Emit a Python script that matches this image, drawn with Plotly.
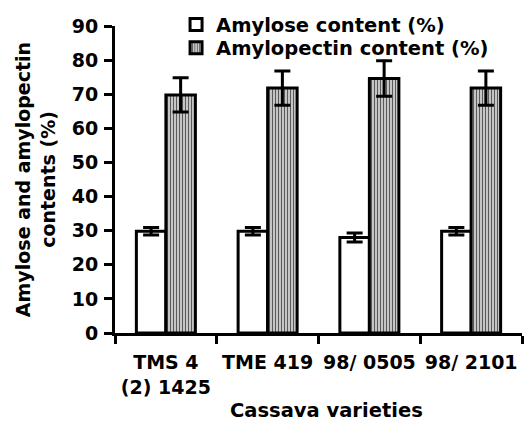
import plotly.graph_objects as go

categories = ["TMS 4<br>(2) 1425", "TME 419", "98/ 0505", "98/ 2101"]
amylose = [29.8, 29.8, 28.0, 29.8]
amylose_err = [1.1, 1.1, 1.3, 1.1]
amylopectin = [69.8, 71.8, 74.6, 71.8]
amylopectin_err = [5.0, 5.0, 5.2, 5.0]
x_title = "Cassava varieties"
y_title = "Amylose and amylopectin<br>contents (%)"

FONT = "DejaVu Sans"

fig = go.Figure()
fig.add_trace(go.Bar(
    x=categories, y=amylose, name="<b>Amylose content (%)</b>",
    marker=dict(color="white", line=dict(color="black", width=3)),
    error_y=dict(type="data", array=amylose_err, visible=True,
                 color="black", thickness=3, width=8),
    legend="legend",
))
fig.add_trace(go.Bar(
    x=categories, y=amylopectin, name="<b>Amylopectin content (%)</b>",
    marker=dict(color="#dcdcdc", line=dict(color="black", width=3),
                pattern=dict(shape="|", size=3, solidity=0.45,
                             fgcolor="#5a5a5a", bgcolor="#dcdcdc",
                             fillmode="replace")),
    error_y=dict(type="data", array=amylopectin_err, visible=True,
                 color="black", thickness=3, width=8),
    legend="legend2",
))

legend_common = dict(xanchor="left", yanchor="middle", bgcolor="rgba(0,0,0,0)",
                     font=dict(size=19.5, family=FONT), itemwidth=30,
                     borderwidth=0)

fig.update_layout(
    width=532, height=423,
    margin=dict(l=115, r=10, t=26, b=90, autoexpand=False),
    paper_bgcolor="white", plot_bgcolor="white",
    barmode="group", bargap=0.42, bargroupgap=0,
    font=dict(family=FONT, size=19, color="black"),
    legend=dict(x=0.15, y=1.004, **legend_common),
    legend2=dict(x=0.15, y=0.928, **legend_common),
    showlegend=True,
    annotations=[dict(text=f"<b>{x_title}</b>", xref="paper", yref="paper",
                      x=0.52, y=-0.252, xanchor="center", yanchor="middle",
                      showarrow=False, font=dict(size=19.5, family=FONT))],
)
fig.update_xaxes(
    showline=True, linecolor="black", linewidth=3,
    ticks="outside", ticklen=8, tickwidth=3, tickcolor="black",
    tickson="boundaries", ticklabelstandoff=10, tickangle=0,
    automargin=False,
    tickfont=dict(size=19, family=FONT),
    tickprefix="<b>", ticksuffix="</b>",
    showgrid=False,
)
fig.update_yaxes(
    range=[0, 90], dtick=10,
    showline=True, linecolor="black", linewidth=3,
    ticks="outside", ticklen=8, tickwidth=3, tickcolor="black",
    automargin=False, ticklabelstandoff=2,
    tickfont=dict(size=19, family=FONT),
    tickprefix="<b>", ticksuffix="</b>",
    title=dict(text=f"<b>{y_title}</b>",
               font=dict(size=19, family=FONT), standoff=12),
    showgrid=False, zeroline=False,
)

fig.write_html("out.html")
